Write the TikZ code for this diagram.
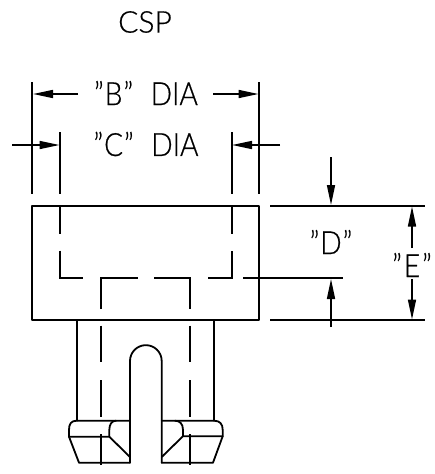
\documentclass[tikz,border=0pt]{standalone}
\usepackage{fontspec}
\setmainfont{Lato}[UprightFont=* Light,RawFeature={embolden=0.6},FakeStretch=0.88]
\newfontfamily\titlefont{Lato}[UprightFont=* Light,RawFeature={embolden=0.6}]
\usetikzlibrary{arrows.meta}
\tikzset{
  part/.style={line width=1.8pt,line cap=round,line join=round},
  thin part/.style={line width=1.7pt,line cap=butt},
  dim/.style={line width=1.6pt,-{Triangle[length=20pt,width=8pt]}},
  label text/.style={inner sep=0pt,font=\fontsize{32}{32}\selectfont,text=black}
}
\begin{document}
\begin{tikzpicture}[x=1pt,y=-1pt]
\useasboundingbox (0,0) rectangle (435,474);
% body
\draw[part] (32.3,205.7) rectangle (259,320);
% hidden lines, upper
\draw[thin part] (60,206) -- (60,233.5);
\draw[thin part] (60,250.5) -- (60,278.2) -- (83,278.2);
\draw[thin part] (101,309) -- (101,278.2) -- (137.5,278.2);
\draw[thin part] (154,278.2) -- (190,278.2) -- (190,309);
\draw[thin part] (208,278.2) -- (232,278.2) -- (232,250.5);
\draw[thin part] (232,233.5) -- (232,206);
% extension lines
\foreach \x/\ytop in {32.3/82,60/132,232/132,259/82}
  \draw[thin part] (\x,\ytop) -- (\x,194);
\draw[thin part] (270,205.7) -- (425,205.7);
\draw[thin part] (270,320) -- (425,320);
\draw[thin part] (243,278.2) -- (343,278.2);
% dimension arrows
\draw[dim] (78,94) -- (33,94);
\draw[dim] (213,94) -- (258.5,94);
\draw[dim] (12,145) -- (59.5,145);
\draw[dim] (280,145) -- (232,145);
\draw[dim] (331,157) -- (331,205);
\draw[dim] (331,327) -- (331,279);
\draw[dim] (412,248) -- (412,206.5);
\draw[dim] (412,278) -- (412,319.5);
% stem
\draw[part] (76.7,320) -- (76.7,420.7);
\draw[part] (214,320) -- (214,420.7);
% slot
\draw[part] (130,462.7) -- (130,361) arc[start angle=180,end angle=360,radius=15.85] -- (161.7,462.7);
% hidden lines, stem
\foreach \x in {101.3,190}{
  \draw[thin part] (\x,325.7) -- (\x,362);
  \draw[thin part] (\x,380) -- (\x,417);
  \draw[thin part] (\x,434) -- (\x,465);
}
% barb, left
\draw[part] (130,420.7) -- (76.7,420.7) .. controls (71,420.7) and (69,424) .. (69,430) -- (69,436.7) -- (79,462.7) -- (130,462.7);
\draw[part] (69,436.7) -- (109.3,436.7) -- (130,457);
\draw[part] (109.3,436.7) -- (109.3,430) .. controls (109.3,424) and (112,420.7) .. (116,420.7);
% barb, right
\draw[part] (161.7,420.7) -- (214,420.7) .. controls (220,420.7) and (222.7,424) .. (222.7,430) -- (222.7,436.2) -- (213,462.7) -- (161.7,462.7);
\draw[part] (222.7,436.2) -- (183,436.2) -- (161.7,457);
\draw[part] (183,436.2) -- (183,430) .. controls (183,424) and (180,420.7) .. (175,420.7);
% text
\node[label text,font=\titlefont\fontsize{30}{30}\selectfont] (title) at (145,22) {CSP};
\node[label text] (bdia) at (146,93) {”\kern1ptB\kern1pt”\hspace{0.55em}DIA};
\node[label text] (cdia) at (146,144) {”\kern1ptC\kern1pt”\hspace{0.55em}DIA};
\node[label text] (dlab) at (331,242) {”\kern1ptD\kern1pt”};
\node[label text,fill=white,inner ysep=2pt] (elab) at (412,265) {”\kern2ptE\kern2pt”};
\end{tikzpicture}
\end{document}
